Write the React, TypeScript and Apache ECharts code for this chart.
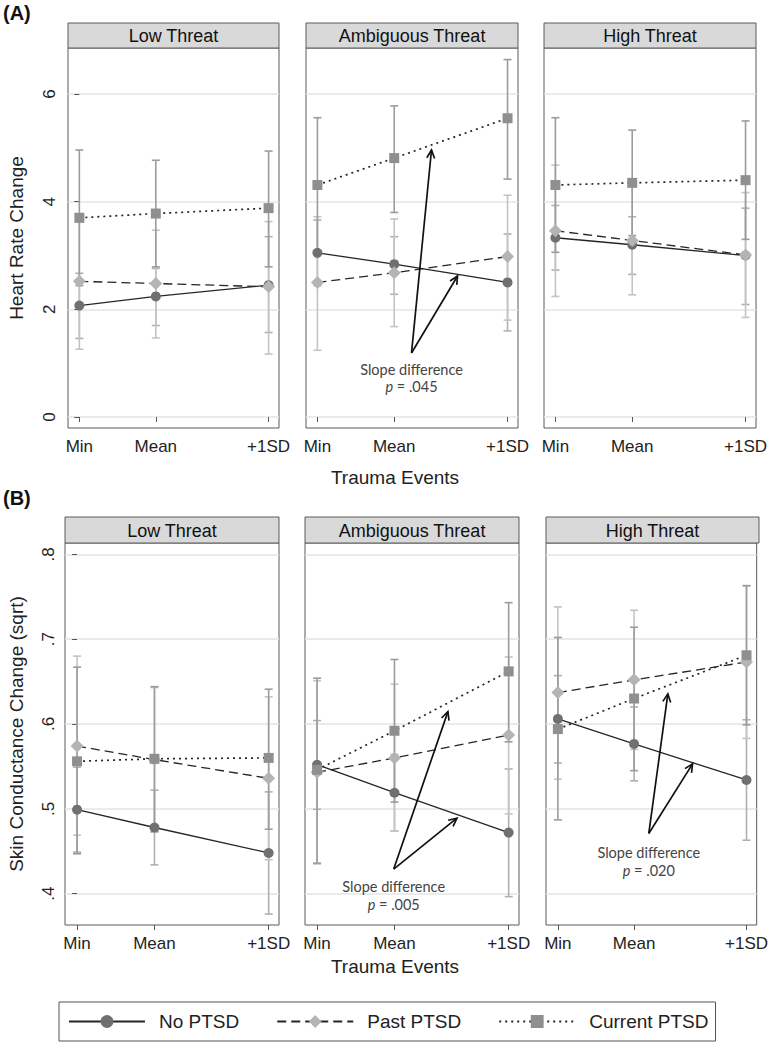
import React, { useEffect, useRef } from "react";
import * as echarts from "echarts";

const FONT = "'Liberation Sans', Arial, Helvetica, sans-serif";
const NOTE_FONT = "Lato, 'Open Sans', sans-serif";

// ---------- data ----------
const xCategories = ["Min", "Mean", "+1SD"];
const xPositions = [0, 0.404, 1];
const panelTitles = ["Low Threat", "Ambiguous Threat", "High Threat"];
const groupNames = ["No PTSD", "Past PTSD", "Current PTSD"];

const hrTicks = [0, 2, 4, 6];
const hrTickLabels = ["0", "2", "4", "6"];
const scTicks = [0.4, 0.5, 0.6, 0.7, 0.8];
const scTickLabels = [".4", ".5", ".6", ".7", ".8"];

// Panel A: Heart rate change (rows = Low, Ambiguous, High threat; cols = Min, Mean, +1SD)
const hrNo = [[2.07, 2.24, 2.45], [3.05, 2.84, 2.5], [3.33, 3.2, 3.0]];
const hrNoLow = [[1.46, 1.7, 1.57], [2.44, 2.28, 1.6], [2.73, 2.65, 2.09]];
const hrNoHigh = [[2.67, 2.76, 3.35], [3.66, 3.35, 3.4], [3.93, 3.72, 3.88]];
const hrPast = [[2.52, 2.48, 2.42], [2.5, 2.68, 2.98], [3.46, 3.28, 3.01]];
const hrPastLow = [[1.26, 1.47, 1.17], [1.24, 1.68, 1.8], [2.24, 2.27, 1.85]];
const hrPastHigh = [[3.78, 3.47, 3.63], [3.72, 3.68, 4.12], [4.68, 4.3, 4.17]];
const hrCur = [[3.7, 3.78, 3.88], [4.31, 4.81, 5.55], [4.31, 4.35, 4.4]];
const hrCurLow = [[2.44, 2.79, 2.79], [3.06, 3.8, 4.42], [3.06, 3.37, 3.3]];
const hrCurHigh = [[4.96, 4.77, 4.94], [5.56, 5.78, 6.64], [5.56, 5.33, 5.5]];

// Panel B: Skin conductance change (sqrt)
const scNo = [[0.499, 0.478, 0.448], [0.552, 0.519, 0.472], [0.606, 0.5765, 0.534]];
const scNoLow = [[0.449, 0.434, 0.376], [0.4995, 0.474, 0.3965], [0.554, 0.533, 0.463]];
const scNoHigh = [[0.549, 0.522, 0.52], [0.604, 0.564, 0.547], [0.657, 0.62, 0.605]];
const scPast = [[0.574, 0.558, 0.536], [0.543, 0.56, 0.587], [0.637, 0.652, 0.673]];
const scPastLow = [[0.469, 0.473, 0.44], [0.435, 0.474, 0.494], [0.535, 0.57, 0.583]];
const scPastHigh = [[0.68, 0.643, 0.632], [0.651, 0.647, 0.679], [0.738, 0.734, 0.763]];
const scCur = [[0.556, 0.559, 0.56], [0.546, 0.592, 0.662], [0.594, 0.63, 0.681]];
const scCurLow = [[0.447, 0.473, 0.476], [0.436, 0.508, 0.579], [0.487, 0.545, 0.599]];
const scCurHigh = [[0.667, 0.644, 0.641], [0.654, 0.676, 0.743], [0.702, 0.714, 0.763]];

// Annotations: [panel, fromX, fromY, toX, toY]
const hrArrows = [
  [1, 0.495, 1.19, 0.6, 4.96],
  [1, 0.495, 1.19, 0.737, 2.62],
];
// [panel, x, yLine1, yLine2, p]
const hrNotes: any[] = [[1, 0.495, 0.89, 0.56, ".045"]];
const scArrows = [
  [1, 0.4, 0.429, 0.683, 0.6146],
  [1, 0.4, 0.429, 0.73, 0.489],
  [2, 0.482, 0.471, 0.583, 0.6355],
  [2, 0.482, 0.471, 0.714, 0.553],
];
const scNotes: any[] = [
  [1, 0.4, 0.408, 0.387, ".005"],
  [2, 0.482, 0.449, 0.427, ".020"],
];

// ---------- layout / style ----------
const ROWS = [
  {
    tag: "(A)", tagY: 3, yTitle: "Heart Rate Change",
    top: 48, height: 380, stripTop: 23, lefts: [68, 306, 544], widths: [211, 212, 212],
    yMin: -0.204, yMax: 6.855, xMin: -0.06, xMax: 1.055,
    ticks: hrTicks, tickLabels: hrTickLabels, labelMargin: 10, xTitleY: 477,
    vals: [hrNo, hrPast, hrCur], lows: [hrNoLow, hrPastLow, hrCurLow], highs: [hrNoHigh, hrPastHigh, hrCurHigh],
    arrows: hrArrows, notes: hrNotes,
  },
  {
    tag: "(B)", tagY: 488, yTitle: "Skin Conductance Change (sqrt)",
    top: 543, height: 382, stripTop: 517, lefts: [65, 305, 546], widths: [214, 214, 213],
    yMin: 0.3631, yMax: 0.8133, xMin: -0.063, xMax: 1.054,
    ticks: scTicks, tickLabels: scTickLabels, labelMargin: 8, xTitleY: 966,
    vals: [scNo, scPast, scCur], lows: [scNoLow, scPastLow, scCurLow], highs: [scNoHigh, scPastHigh, scCurHigh],
    arrows: scArrows, notes: scNotes,
  },
];

const markerSymbols = ["circle", "diamond", "rect"];
const markerSizes = [10, 13, 10];
const markerColors = ["#707070", "#b4b4b4", "#8f8f8f"];
const ciColors = ["#b0b0b0", "#c4c4c4", "#9c9c9c"];
const lineTypes: any[] = ["solid", [9, 5], [2, 4]];
const lineWidths = [1.3, 1.3, 1.7];

function nearestLabel(v: number, pos: number[], labels: string[]) {
  let best = 0;
  for (let i = 1; i < pos.length; i++) if (Math.abs(pos[i] - v) < Math.abs(pos[best] - v)) best = i;
  return Math.abs(pos[best] - v) < 1e-6 ? labels[best] : "";
}

function buildOption() {
  const grid: any[] = [];
  const xAxis: any[] = [];
  const yAxis: any[] = [];
  const series: any[] = [];
  const graphic: any[] = [];

  ROWS.forEach((row, r) => {
    graphic.push({
      type: "text", left: 3, top: row.tagY,
      style: { text: row.tag, font: `bold 20px ${FONT}`, fill: "#111" },
    });
    graphic.push({
      type: "text", x: 16, y: row.top + row.height / 2, rotation: Math.PI / 2,
      style: { text: row.yTitle, font: `19px ${FONT}`, fill: "#222", align: "center", verticalAlign: "middle" },
    });
    graphic.push({
      type: "text", x: 395, y: row.xTitleY,
      style: { text: "Trauma Events", font: `19px ${FONT}`, fill: "#222", align: "center", verticalAlign: "middle" },
    });

    panelTitles.forEach((title, c) => {
      const g = r * 3 + c;
      const left = row.lefts[c];
      const width = row.widths[c];
      grid.push({ left, top: row.top, width, height: row.height, show: true, borderColor: "#5a5a5a", borderWidth: 1, backgroundColor: "transparent" });
      graphic.push({
        type: "rect", shape: { x: left, y: row.stripTop, width, height: row.top - row.stripTop },
        style: { fill: "#d9d9d9", stroke: "#5a5a5a", lineWidth: 1 },
      });
      graphic.push({
        type: "text", x: left + width / 2, y: (row.stripTop + row.top) / 2 + 0.5,
        style: { text: title, font: `18px ${FONT}`, fill: "#111", align: "center", verticalAlign: "middle" },
      });

      xAxis.push({
        type: "value", gridIndex: g, min: row.xMin, max: row.xMax,
        axisLine: { show: false }, splitLine: { show: false },
        axisTick: { show: true, length: 5, lineStyle: { color: "#555", width: 1 }, customValues: xPositions },
        axisLabel: {
          customValues: xPositions, fontSize: 17, fontFamily: FONT, color: "#222", margin: 10,
          formatter: (v: number) => nearestLabel(v, xPositions, xCategories),
        },
      });
      yAxis.push({
        type: "value", gridIndex: g, min: row.yMin, max: row.yMax,
        axisLine: { show: false },
        axisTick: { show: c === 0, length: 5, lineStyle: { color: "#555", width: 1 }, customValues: row.ticks },
        axisLabel: {
          show: c === 0, customValues: row.ticks, rotate: 90, fontSize: 17, fontFamily: FONT, color: "#222",
          margin: row.labelMargin,
          formatter: (v: number) => nearestLabel(v, row.ticks, row.tickLabels),
        },
        splitLine: { show: true, lineStyle: { color: "#e4e4e4", width: 1.5 } },
      });

      // error bars
      groupNames.forEach((name, k) => {
        series.push({
          type: "custom", name: name + " CI", xAxisIndex: g, yAxisIndex: g, z: 2,
          data: xPositions.map((x, i) => [x, row.lows[k][c][i], row.highs[k][c][i]]),
          encode: { x: 0, y: [1, 2] },
          renderItem: (params: any, api: any) => {
            const x = api.value(0);
            const p1 = api.coord([x, api.value(1)]);
            const p2 = api.coord([x, api.value(2)]);
            const hw = 4;
            const st = { stroke: ciColors[k], lineWidth: 1.6 };
            return {
              type: "group",
              children: [
                { type: "line", shape: { x1: p1[0], y1: p1[1], x2: p2[0], y2: p2[1] }, style: st },
                { type: "line", shape: { x1: p1[0] - hw, y1: p1[1], x2: p1[0] + hw, y2: p1[1] }, style: st },
                { type: "line", shape: { x1: p2[0] - hw, y1: p2[1], x2: p2[0] + hw, y2: p2[1] }, style: st },
              ],
            };
          },
        });
      });
      // lines + markers
      groupNames.forEach((name, k) => {
        series.push({
          type: "line", name, xAxisIndex: g, yAxisIndex: g, z: 3,
          data: xPositions.map((x, i) => [x, row.vals[k][c][i]]),
          symbol: markerSymbols[k], symbolSize: markerSizes[k], showSymbol: true,
          itemStyle: { color: markerColors[k], borderWidth: 0 },
          lineStyle: { color: "#262626", width: lineWidths[k], type: lineTypes[k] },
        });
      });

      // annotations
      const arrows = row.arrows.filter((a) => a[0] === c);
      if (arrows.length) {
        series.push({
          type: "custom", name: "arrows", xAxisIndex: g, yAxisIndex: g, z: 5, silent: true,
          data: arrows.map((a) => [a[1], a[2], a[3], a[4]]),
          encode: { x: [0, 2], y: [1, 3] },
          renderItem: (params: any, api: any) => {
            const a = api.coord([api.value(0), api.value(1)]);
            const b = api.coord([api.value(2), api.value(3)]);
            const ang = Math.atan2(b[1] - a[1], b[0] - a[0]);
            const L = 9, sp = 0.45;
            const h1 = [b[0] - L * Math.cos(ang - sp), b[1] - L * Math.sin(ang - sp)];
            const h2 = [b[0] - L * Math.cos(ang + sp), b[1] - L * Math.sin(ang + sp)];
            const st = { stroke: "#111", lineWidth: 1.7, fill: "none" };
            return {
              type: "group",
              children: [
                { type: "line", shape: { x1: a[0], y1: a[1], x2: b[0], y2: b[1] }, style: st },
                { type: "polyline", shape: { points: [h1, b, h2] }, style: st },
              ],
            };
          },
        });
      }
      const notes = row.notes.filter((n: any) => n[0] === c);
      if (notes.length) {
        series.push({
          type: "custom", name: "notes", xAxisIndex: g, yAxisIndex: g, z: 5, silent: true,
          data: notes.map((n: any) => [n[1], n[2], n[3]]),
          encode: { x: 0, y: [1, 2] },
          renderItem: (params: any, api: any) => {
            const n = notes[params.dataIndex];
            const p1 = api.coord([api.value(0), api.value(1)]);
            const p2 = api.coord([api.value(0), api.value(2)]);
            return {
              type: "group",
              children: [
                {
                  type: "text", x: p1[0], y: p1[1],
                  style: { text: "Slope difference", fill: "#444", fontSize: 14.5, fontFamily: NOTE_FONT, align: "center", verticalAlign: "middle" },
                },
                {
                  type: "text", x: p2[0], y: p2[1],
                  style: {
                    text: "{i|p} = " + n[4], fill: "#444", fontSize: 14.5, fontFamily: NOTE_FONT, align: "center", verticalAlign: "middle",
                    rich: { i: { fontStyle: "italic", fontSize: 14.5, fontFamily: NOTE_FONT, fill: "#444" } },
                  },
                },
              ],
            };
          },
        });
      }
    });
  });

  return {
    animation: false,
    backgroundColor: "#ffffff",
    textStyle: { fontFamily: FONT },
    grid, xAxis, yAxis, series, graphic,
    legend: {
      data: groupNames, left: 59, top: 1002, orient: "horizontal", selectedMode: false,
      itemWidth: 76, itemHeight: 16, itemGap: 37, padding: [10, 7, 10, 9],
      borderColor: "#555", borderWidth: 1,
      textStyle: { fontSize: 19, fontFamily: FONT, color: "#222", padding: [0, 0, 0, 9] },
    },
  };
}

export default function App() {
  const ref = useRef<HTMLDivElement>(null);
  useEffect(() => {
    document.body.style.margin = "0";
    const chart = echarts.init(ref.current!, undefined, { renderer: "svg" });
    chart.setOption(buildOption() as any);
    return () => chart.dispose();
  }, []);
  return <div ref={ref} style={{ width: 771, height: 1050 }} />;
}
